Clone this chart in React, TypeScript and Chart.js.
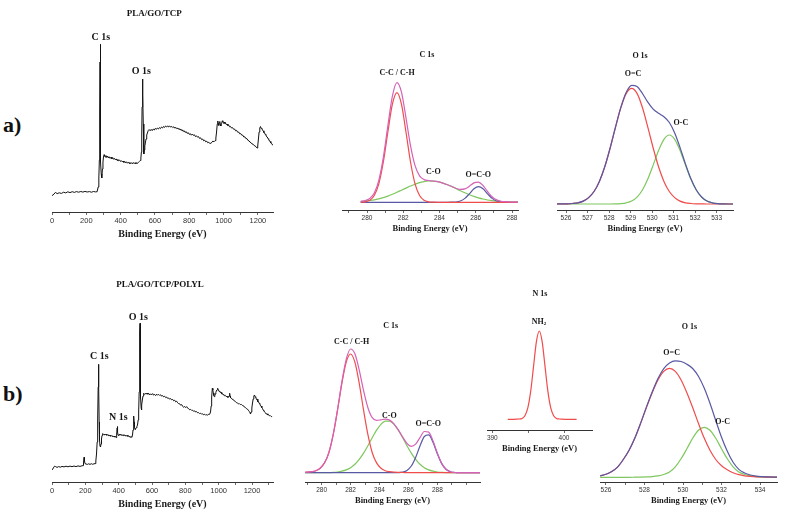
import React, { useEffect, useRef } from 'react';
import { Chart, registerables } from 'chart.js';

Chart.register(...registerables);

// ---------------- DATA ----------------
// Survey spectra [binding energy (eV), intensity (a.u.)]
const SURVEY_A: [number, number][] = [
  [0, 16.3], [12, 18.0], [20, 19.6], [30, 18.4], [42, 19.2], [55, 18.6], [68, 19.8], [80, 19.1], [92, 20.2], [105, 19.4],
  [118, 20.3], [130, 19.6], [142, 20.4], [155, 19.8], [168, 20.5], [180, 19.9], [192, 20.6], [205, 20.0], [218, 20.4], [230, 19.8],
  [242, 20.5], [254, 20.1], [263, 20.3], [269, 25], [273, 34], [276, 52], [278, 100], [280, 150], [281, 167.7], [282, 140],
  [283, 96], [285, 50], [287, 38], [289, 36], [291, 34], [294, 43], [297, 50], [300, 55], [304, 57.5], [309, 55],
  [314, 56.5], [319, 54.5], [324, 56], [329, 54], [334, 55.2], [339, 53.6], [344, 54.8], [349, 53.2], [354, 54.3], [359, 52.7],
  [364, 53.6], [369, 52.2], [374, 53.1], [379, 51.6], [384, 52.6], [389, 51.2], [394, 52], [399, 50.6], [404, 51.4], [409, 50.2],
  [414, 51], [419, 49.6], [424, 50.5], [429, 49.2], [434, 50.2], [439, 48.8], [444, 49.8], [449, 48.6], [454, 49.6], [459, 48.3],
  [464, 49.3], [469, 48.2], [474, 49.5], [479, 48.4], [484, 49.3], [489, 48.2], [494, 49.4], [499, 48.6], [504, 49.6], [509, 50.5],
  [514, 51.5], [518, 54], [521, 60], [523, 78], [525, 105], [527, 128], [528.5, 133], [530, 118], [532, 88], [534, 62],
  [536, 58], [538, 62], [541, 66], [544, 69], [548, 73], [552, 77], [556, 79], [561, 81.5], [566, 82.5], [572, 81.2],
  [578, 82.6], [584, 81.4], [590, 83], [596, 82], [602, 83.6], [608, 82.6], [614, 84], [620, 83], [626, 84.4], [632, 83.4],
  [638, 85], [644, 84], [650, 85.5], [656, 84.6], [662, 86], [668, 85], [674, 86.2], [680, 85], [686, 86], [692, 84.8],
  [698, 85.6], [704, 84.4], [710, 85.2], [716, 83.8], [722, 84.6], [728, 83.2], [734, 84], [740, 82.4], [746, 83.2], [752, 81.6],
  [758, 82.4], [764, 80.6], [770, 81.4], [776, 79.6], [782, 80.4], [788, 78.6], [794, 79.4], [800, 77.6], [806, 78.4], [812, 76.8],
  [818, 78], [824, 76.6], [830, 77.2], [836, 75.4], [842, 76.2], [848, 74.8], [854, 75.4], [860, 73.6], [866, 74.2], [872, 72.4],
  [878, 73], [884, 71.2], [890, 71.8], [896, 70.2], [902, 70.8], [908, 69.2], [914, 69.8], [920, 68.4], [926, 68.8], [932, 69.6],
  [938, 71], [944, 70.2], [950, 71.4], [955, 74], [959, 80], [963, 88], [966, 91], [969, 88.4], [972, 86.6], [975, 89.5],
  [978, 90.5], [981, 87.6], [984, 86], [987, 88.8], [990, 89.6], [993, 91.2], [996, 90.2], [1000, 88.6], [1004, 90], [1008, 88.4],
  [1012, 88.8], [1016, 87.4], [1020, 88], [1025, 86.4], [1030, 86.8], [1035, 85.2], [1040, 85.6], [1046, 84], [1052, 84.4], [1058, 82.8],
  [1064, 83], [1070, 81.2], [1076, 81.6], [1082, 79.8], [1088, 80], [1094, 78.2], [1100, 78.4], [1106, 76.8], [1112, 76.8], [1118, 75],
  [1124, 75.2], [1130, 73.4], [1136, 73.4], [1142, 71.6], [1148, 71.2], [1154, 69.8], [1160, 69.4], [1166, 68], [1172, 67.8], [1178, 66.4],
  [1184, 66.2], [1190, 64.8], [1195, 64], [1199, 66], [1203, 73], [1207, 80], [1211, 84], [1215, 85.5], [1219, 83.6], [1223, 83.8],
  [1227, 81.6], [1231, 81.2], [1235, 79.4], [1239, 79.2], [1243, 77.4], [1247, 77], [1251, 75.2], [1255, 75], [1259, 73.2], [1263, 72.8],
  [1267, 71], [1271, 70.6], [1275, 69], [1279, 68.8], [1283, 67.4], [1287, 67],
];

const SURVEY_B: [number, number][] = [
  [0, 12], [8, 14], [15, 15.8], [22, 15.4], [30, 14.6], [40, 15.4], [50, 14.8], [60, 15.6], [72, 15.1], [84, 15.8],
  [96, 15.2], [108, 15.9], [120, 15.3], [132, 16], [144, 15.4], [156, 16.1], [168, 15.6], [180, 16.2], [186, 16.4], [189, 19],
  [192, 24.7], [195, 21], [198, 18.4], [204, 18], [212, 17.6], [220, 18.2], [228, 17.6], [236, 18.3], [244, 17.7], [252, 18.2],
  [258, 18.4], [263, 21], [267, 28], [271, 40], [274, 62], [277, 95], [279, 117.7], [281, 95], [283, 60], [285, 42],
  [288, 36], [291, 35], [294, 38], [297, 43], [300, 46.5], [304, 48.5], [308, 48], [312, 47.2], [316, 48], [320, 47],
  [324, 47.8], [328, 46.8], [332, 47.4], [336, 46.4], [340, 47.2], [344, 46.2], [348, 46.8], [352, 45.8], [356, 46.4], [360, 45.6],
  [364, 46.2], [368, 45.4], [372, 46], [376, 44.9], [380, 45.6], [384, 44.4], [387, 45], [389, 48], [391, 54], [392.5, 55.5],
  [394, 50], [396, 47], [399, 46.6], [403, 47.6], [407, 46.8], [411, 47.6], [415, 46.8], [419, 47.4], [423, 46.6], [427, 47.2],
  [431, 46.4], [435, 47], [439, 46.2], [443, 46.8], [447, 45.8], [451, 46.6], [455, 45.6], [459, 46.2], [463, 45.2], [467, 45.8],
  [471, 44.6], [475, 45.2], [479, 44.8], [483, 47], [486, 52], [489, 60], [491, 66], [493, 60], [495, 55], [498, 52.5],
  [501, 53.5], [505, 54], [509, 55.3], [513, 57], [517, 62], [520, 70], [523, 90], [525, 120], [527, 150], [528, 158.7],
  [529, 150], [531, 118], [533, 85], [535, 74], [537, 72], [539, 77], [542, 82], [546, 86], [550, 88.7], [555, 87.6],
  [560, 88.6], [565, 87.8], [570, 89], [575, 87.8], [580, 88.6], [586, 87], [592, 88.2], [598, 87.2], [604, 88.4], [610, 86.8],
  [616, 87.6], [622, 86.4], [628, 87.8], [634, 86.8], [640, 87.6], [646, 86.6], [652, 87.2], [658, 85.8], [664, 86.4], [670, 85.2],
  [676, 85.8], [682, 84.4], [688, 85], [694, 83.6], [700, 84], [706, 82.8], [712, 83.4], [718, 82.2], [724, 82.6], [730, 81.2],
  [736, 81.8], [742, 80.2], [748, 80.8], [754, 79.2], [760, 78.4], [766, 78.2], [772, 76.8], [778, 77.4], [784, 75.8], [790, 74.6],
  [796, 75.6], [802, 74.4], [808, 75.4], [814, 73.8], [820, 73.4], [826, 72.2], [832, 72.6], [838, 71.6], [844, 71.8], [850, 70.6],
  [856, 71.2], [862, 70], [868, 70.4], [874, 69.2], [880, 69.4], [886, 68.4], [892, 68.8], [898, 67.8], [904, 68.2], [910, 67.2],
  [916, 67.8], [922, 66.8], [928, 67.4], [934, 66.8], [940, 67.8], [946, 67.7], [951, 70], [955, 76], [958, 85], [962, 93.7],
  [965, 92], [968, 89], [971, 86.5], [974, 85.3], [977, 86.4], [980, 88], [983, 89.6], [986, 91], [990, 92.2], [994, 93.7],
  [998, 92.4], [1002, 90.6], [1006, 91], [1010, 89.4], [1014, 89.6], [1018, 88.2], [1022, 88.6], [1026, 87.2], [1030, 87.6], [1035, 86.2],
  [1040, 86.6], [1045, 85.4], [1050, 85.8], [1055, 84.6], [1060, 85], [1063, 86], [1066, 88.7], [1068, 86], [1071, 84.4], [1076, 84],
  [1082, 82.6], [1088, 82.4], [1094, 81], [1100, 80.6], [1106, 79.4], [1112, 79], [1118, 78.2], [1124, 78.4], [1130, 77.4], [1136, 77.6],
  [1142, 76.6], [1148, 76.4], [1154, 75], [1160, 74.6], [1166, 73.4], [1172, 73], [1178, 71.8], [1184, 70.4], [1188, 69.2], [1191, 68],
  [1195, 70], [1199, 74], [1203, 79], [1207, 83], [1211, 86], [1215, 87], [1219, 85.2], [1223, 84.6], [1227, 82.4], [1231, 82.8],
  [1235, 80.3], [1239, 80.4], [1243, 78.6], [1247, 78.2], [1251, 76.2], [1255, 76], [1259, 74.2], [1263, 73.6], [1267, 71.8], [1271, 71.4],
  [1275, 70], [1280, 69.4], [1285, 68], [1290, 68.2], [1295, 67], [1300, 67.2], [1305, 66.2], [1310, 66.4], [1314, 65.6], [1318, 65.3],
];

// a) C 1s high resolution
const A_C1S_EV = [279.65, 279.9, 280.15, 280.4, 280.65, 280.9, 281.15, 281.4, 281.65, 281.9, 282.15, 282.4, 282.65, 282.9, 283.15, 283.4, 283.65, 283.9, 284.15, 284.4, 284.65, 284.9, 285.15, 285.4, 285.65, 285.9, 286.15, 286.4, 286.65, 286.9, 287.15, 287.4, 287.65, 287.9, 288.15, 288.4];
const A_C1S_ENV = [0.9, 1.7, 3.8, 9.3, 22.0, 45.0, 76.5, 106.1, 119.7, 110.2, 84.5, 56.6, 36.6, 26.5, 22.7, 21.8, 21.3, 20.6, 19.4, 17.8, 16.0, 14.1, 12.9, 13.4, 16.1, 19.4, 20.2, 16.8, 10.8, 5.5, 2.4, 1.0, 0.6, 0.3, 0.2, 0.1];
const A_C1S_CC = [0.1, 0.5, 2.0, 6.8, 18.5, 40.3, 70.3, 98.1, 109.7, 98.1, 70.3, 40.3, 18.5, 6.8, 2.0, 0.5, 0.1, 0, 0, 0, 0, 0, 0, 0, 0, 0, 0, 0, 0, 0, 0, 0, 0, 0, 0, 0];
const A_C1S_CO = [0.8, 1.2, 1.8, 2.5, 3.5, 4.7, 6.2, 8.0, 10.0, 12.1, 14.2, 16.3, 18.1, 19.7, 20.7, 21.3, 21.2, 20.6, 19.4, 17.8, 15.9, 13.8, 11.6, 9.5, 7.6, 5.9, 4.5, 3.3, 2.3, 1.6, 1.1, 0.7, 0.5, 0.3, 0.2, 0.1];
const A_C1S_OCO = [0, 0, 0, 0, 0, 0, 0, 0, 0, 0, 0, 0, 0, 0, 0, 0, 0, 0, 0, 0, 0.1, 0.3, 1.3, 3.9, 8.5, 13.5, 15.7, 13.5, 8.5, 3.9, 1.3, 0.3, 0.1, 0, 0, 0];

// a) O 1s high resolution
const A_O1S_EV = [525.55, 525.8, 526.05, 526.3, 526.55, 526.8, 527.05, 527.3, 527.55, 527.8, 528.05, 528.3, 528.55, 528.8, 529.05, 529.3, 529.55, 529.8, 530.05, 530.3, 530.55, 530.8, 531.05, 531.3, 531.55, 531.8, 532.05, 532.3, 532.55, 532.8, 533.05, 533.3, 533.55, 533.8];
const A_O1S_ENV = [0, 0.1, 0.2, 0.5, 1.2, 2.9, 6.4, 12.5, 22.6, 37.2, 56.0, 77.0, 96.9, 111.8, 118.7, 117.5, 110.5, 101.8, 94.9, 90.7, 87.3, 81.5, 71.1, 56.4, 40.1, 25.4, 14.2, 7.0, 3.0, 1.2, 0.4, 0.1, 0, 0];
const A_O1S_OdC = [0, 0.1, 0.2, 0.5, 1.2, 2.9, 6.4, 12.5, 22.6, 37.2, 56.0, 76.9, 96.5, 110.6, 115.7, 110.6, 96.5, 76.9, 56.0, 37.2, 22.6, 12.5, 6.4, 2.9, 1.2, 0.5, 0.2, 0.1, 0, 0, 0, 0, 0, 0];
const A_O1S_OC = [0, 0, 0, 0, 0, 0, 0, 0, 0, 0, 0, 0.1, 0.4, 1.2, 3.0, 6.9, 14.0, 24.9, 38.9, 53.5, 64.7, 69.0, 64.7, 53.5, 38.9, 24.9, 14.0, 6.9, 3.0, 1.2, 0.4, 0.1, 0, 0];

// b) C 1s high resolution
const B_C1S_EV = [278.7, 279.0, 279.3, 279.6, 279.9, 280.2, 280.5, 280.8, 281.1, 281.4, 281.7, 282.0, 282.3, 282.6, 282.9, 283.2, 283.5, 283.8, 284.1, 284.4, 284.7, 285.0, 285.3, 285.6, 285.9, 286.2, 286.5, 286.8, 287.1, 287.4, 287.7, 288.0, 288.3, 288.6, 288.9, 289.2, 289.5, 289.8, 290.1, 290.4, 290.7, 291.0];
const B_C1S_ENV = [0.3, 0.5, 1.0, 2.0, 4.5, 9.9, 20.1, 38.3, 63.2, 90.8, 113.3, 123.7, 118.9, 102.6, 82.1, 65.0, 55.0, 52.3, 52.9, 53.6, 52.6, 48.9, 42.9, 35.8, 29.4, 26.3, 28.6, 35.1, 41.2, 40.6, 31.9, 19.6, 9.4, 3.5, 1.0, 0.2, 0, 0, 0, 0, 0, 0];
const B_C1S_CC = [0.3, 0.5, 1.0, 2.0, 4.5, 9.8, 20.0, 38.0, 62.5, 89.3, 110.5, 118.7, 110.5, 89.3, 62.5, 38.0, 20.0, 9.8, 4.5, 2.0, 1.0, 0.5, 0.3, 0.2, 0.1, 0, 0, 0, 0, 0, 0, 0, 0, 0, 0, 0, 0, 0, 0, 0, 0, 0];
const B_C1S_CO = [0, 0, 0, 0, 0, 0.1, 0.1, 0.3, 0.7, 1.5, 2.8, 5.0, 8.4, 13.3, 19.6, 27.0, 35.0, 42.5, 48.4, 51.6, 51.6, 48.4, 42.5, 35.0, 27.0, 19.6, 13.3, 8.4, 5.0, 2.8, 1.5, 0.7, 0.3, 0.1, 0, 0, 0, 0, 0, 0, 0, 0];
const B_C1S_OCO = [0, 0, 0, 0, 0, 0, 0, 0, 0, 0, 0, 0, 0, 0, 0, 0, 0, 0, 0, 0, 0, 0, 0.1, 0.6, 2.3, 6.7, 15.3, 26.7, 36.2, 37.8, 30.4, 18.9, 9.1, 3.4, 1.0, 0.2, 0, 0, 0, 0, 0, 0];

// b) N 1s high resolution
const B_N1S_EV = [392.15, 392.55, 392.95, 393.35, 393.75, 394.15, 394.55, 394.95, 395.35, 395.75, 396.15, 396.55, 396.95, 397.35, 397.75, 398.15, 398.55, 398.95, 399.35, 399.75, 400.15, 400.55, 400.95, 401.35, 401.75];
const B_N1S_NH2 = [0, 0, 0, 0.1, 0.3, 0.9, 3.6, 11.4, 27.9, 52.9, 77.7, 88.3, 77.7, 52.9, 27.9, 11.4, 3.6, 0.9, 0.3, 0.1, 0, 0, 0, 0, 0];

// b) O 1s high resolution
const B_O1S_EV = [525.7, 526.0, 526.3, 526.6, 526.9, 527.2, 527.5, 527.8, 528.1, 528.4, 528.7, 529.0, 529.3, 529.6, 529.9, 530.2, 530.5, 530.8, 531.1, 531.4, 531.7, 532.0, 532.3, 532.6, 532.9, 533.2, 533.5, 533.8, 534.1, 534.4, 534.7, 534.9];
const B_O1S_ENV = [1.5, 3.0, 5.8, 10.2, 17.8, 27.0, 39.3, 54.2, 70.2, 85.3, 98.7, 108.7, 114.3, 116.4, 115.8, 113.1, 108.8, 101.0, 89.2, 74.0, 56.8, 40.0, 26.0, 15.0, 7.9, 4.3, 2.3, 1.2, 0.7, 0.4, 0.2, 0.1];
const B_O1S_OdC = [1.5, 3.0, 5.8, 10.2, 17.8, 27.0, 39.2, 54.0, 69.8, 84.6, 97.3, 105.9, 109.0, 105.9, 97.3, 84.6, 69.8, 54.0, 39.2, 27.0, 17.8, 11.5, 7.5, 4.5, 2.6, 1.5, 0.9, 0.5, 0.3, 0.2, 0.1, 0.1];
const B_O1S_OC = [0, 0, 0, 0, 0, 0, 0.1, 0.2, 0.4, 0.7, 1.4, 2.8, 5.3, 10.5, 18.5, 28.5, 39.0, 47.0, 50.0, 47.0, 39.0, 28.5, 18.5, 10.5, 5.3, 2.8, 1.4, 0.7, 0.4, 0.2, 0.1, 0];

const AXIS_TITLE = 'Binding Energy (eV)';

// ---------------- STYLE ----------------
const C_ENV_C = '#d462b8';
const C_RED = '#f04c4c';
const C_GREEN = '#7ec75e';
const C_BLUE = '#5858a4';
const SERIF = '"Liberation Serif", "Times New Roman", serif';
const SANS = '"Liberation Sans", Arial, sans-serif';

type Series = { xs: number[]; ys: number[]; color: string; width: number; smooth: boolean };
type Txt = { text: string; x: number; y: number; size: number; sub?: string };
type Panel = {
  box: { l: number; t: number; w: number; h: number };
  pad: { left: number; right: number; top: number; bottom: number };
  x: { min: number; max: number; step: number; labelEvery: number; labelMax?: number };
  y: { min: number; max: number };
  survey: boolean;
  series: Series[];
  texts: Txt[];
};

const pairsX = (p: [number, number][]) => p.map((d) => d[0]);
const pairsY = (p: [number, number][]) => p.map((d) => d[1]);

const PANELS: Panel[] = [
  {
    box: { l: 38, t: 4, w: 247, h: 236 }, pad: { left: 14, right: 12, top: 0, bottom: 0 },
    x: { min: 0, max: 1288, step: 100, labelEvery: 200 }, y: { min: 0, max: 208 }, survey: true,
    series: [{ xs: pairsX(SURVEY_A), ys: pairsY(SURVEY_A), color: '#111', width: 1, smooth: false }],
    texts: [
      { text: 'PLA/GO/TCP', x: 596, y: 198, size: 9 },
      { text: 'C 1s', x: 285, y: 175, size: 10 },
      { text: 'O 1s', x: 520, y: 141, size: 10 },
    ],
  },
  {
    box: { l: 326, t: 46, w: 206, h: 188 }, pad: { left: 16, right: 14, top: 0, bottom: 0 },
    x: { min: 278.62, max: 288.33, step: 1, labelEvery: 2 }, y: { min: -7.7, max: 156.3 }, survey: false,
    series: [
      { xs: A_C1S_EV, ys: A_C1S_ENV, color: C_ENV_C, width: 1.2, smooth: true },
      { xs: A_C1S_EV, ys: A_C1S_CC, color: C_RED, width: 1.2, smooth: true },
      { xs: A_C1S_EV, ys: A_C1S_OCO, color: C_BLUE, width: 1.2, smooth: true },
      { xs: A_C1S_EV, ys: A_C1S_CO, color: C_GREEN, width: 1.2, smooth: true },
    ],
    texts: [
      { text: 'C 1s', x: 283.31, y: 147.3, size: 8 },
      { text: 'C-C / C-H', x: 281.66, y: 129, size: 8 },
      { text: 'C-O', x: 283.66, y: 30.6, size: 8 },
      { text: 'O=C-O', x: 286.14, y: 27.3, size: 8 },
    ],
  },
  {
    box: { l: 541, t: 46, w: 206, h: 188 }, pad: { left: 16, right: 14, top: 0, bottom: 0 },
    x: { min: 525.58, max: 533.76, step: 1, labelEvery: 1 }, y: { min: -6, max: 158 }, survey: false,
    series: [
      { xs: A_O1S_EV, ys: A_O1S_ENV, color: C_BLUE, width: 1.2, smooth: true },
      { xs: A_O1S_EV, ys: A_O1S_OdC, color: C_RED, width: 1.2, smooth: true },
      { xs: A_O1S_EV, ys: A_O1S_OC, color: C_GREEN, width: 1.2, smooth: true },
    ],
    texts: [
      { text: 'O 1s', x: 529.44, y: 148.3, size: 8 },
      { text: 'O=C', x: 529.11, y: 129.7, size: 8 },
      { text: 'O-C', x: 531.34, y: 80.7, size: 8 },
    ],
  },
  {
    box: { l: 38, t: 274, w: 247, h: 236 }, pad: { left: 14, right: 12, top: 0, bottom: 0 },
    x: { min: 0, max: 1326, step: 100, labelEvery: 200 }, y: { min: 0, max: 208 }, survey: true,
    series: [{ xs: pairsX(SURVEY_B), ys: pairsY(SURVEY_B), color: '#111', width: 1, smooth: false }],
    texts: [
      { text: 'PLA/GO/TCP/POLYL', x: 648, y: 197, size: 9 },
      { text: 'C 1s', x: 284, y: 125.3, size: 10 },
      { text: 'N 1s', x: 398, y: 64.3, size: 10 },
      { text: 'O 1s', x: 518, y: 164.7, size: 10 },
    ],
  },
  {
    box: { l: 289, t: 316, w: 205, h: 190 }, pad: { left: 16, right: 14, top: 0, bottom: 0 },
    x: { min: 278.85, max: 290.95, step: 1, labelEvery: 2, labelMax: 288 }, y: { min: -9.3, max: 156.7 }, survey: false,
    series: [
      { xs: B_C1S_EV, ys: B_C1S_ENV, color: C_ENV_C, width: 1.2, smooth: true },
      { xs: B_C1S_EV, ys: B_C1S_CC, color: C_RED, width: 1.2, smooth: true },
      { xs: B_C1S_EV, ys: B_C1S_OCO, color: C_BLUE, width: 1.2, smooth: true },
      { xs: B_C1S_EV, ys: B_C1S_CO, color: C_GREEN, width: 1.2, smooth: true },
    ],
    texts: [
      { text: 'C 1s', x: 284.77, y: 147, size: 8 },
      { text: 'C-C / C-H', x: 282.07, y: 131, size: 8 },
      { text: 'C-O', x: 284.68, y: 56.7, size: 8 },
      { text: 'O=C-O', x: 287.37, y: 48.7, size: 8 },
    ],
  },
  {
    box: { l: 471, t: 285, w: 135, h: 169 }, pad: { left: 16, right: 14, top: 0, bottom: 0 },
    x: { min: 389.26, max: 403.9, step: 5, labelEvery: 10 }, y: { min: -10.7, max: 134.3 }, survey: false,
    series: [{ xs: B_N1S_EV, ys: B_N1S_NH2, color: C_RED, width: 1.2, smooth: true }],
    texts: [
      { text: 'N 1s', x: 396.65, y: 125.3, size: 8 },
      { text: 'NH', sub: '2', x: 396.51, y: 97.6, size: 8 },
    ],
  },
  {
    box: { l: 584, t: 318, w: 201, h: 188 }, pad: { left: 16, right: 8, top: 0, bottom: 0 },
    x: { min: 525.69, max: 534.88, step: 1, labelEvery: 2 }, y: { min: -4.7, max: 159.3 }, survey: false,
    series: [
      { xs: B_O1S_EV, ys: B_O1S_ENV, color: C_BLUE, width: 1.2, smooth: true },
      { xs: B_O1S_EV, ys: B_O1S_OdC, color: C_RED, width: 1.2, smooth: true },
      { xs: B_O1S_EV, ys: B_O1S_OC, color: C_GREEN, width: 1.2, smooth: true },
    ],
    texts: [
      { text: 'O 1s', x: 530.33, y: 150, size: 8 },
      { text: 'O=C', x: 529.41, y: 124, size: 8 },
      { text: 'O-C', x: 532.06, y: 55.6, size: 8 },
    ],
  },
];

const textPlugin = {
  id: 'panelText',
  afterDatasetsDraw(chart: any, _args: any, opts: any) {
    const items: Txt[] = (opts && opts.items) || [];
    const { ctx } = chart;
    const xs = chart.scales.x;
    const ys = chart.scales.y;
    ctx.save();
    ctx.fillStyle = '#151515';
    ctx.textBaseline = 'middle';
    for (const it of items) {
      const px = xs.getPixelForValue(it.x);
      const py = ys.getPixelForValue(it.y);
      const mainFont = `bold ${it.size}px ${SERIF}`;
      if (it.sub) {
        const subFont = `bold ${Math.round(it.size * 0.65)}px ${SERIF}`;
        ctx.font = mainFont;
        const mw = ctx.measureText(it.text).width;
        ctx.font = subFont;
        const sw = ctx.measureText(it.sub).width;
        const start = px - (mw + sw) / 2;
        ctx.textAlign = 'left';
        ctx.font = mainFont;
        ctx.fillText(it.text, start, py);
        ctx.font = subFont;
        ctx.fillText(it.sub, start + mw, py + it.size * 0.3);
      } else {
        ctx.font = mainFont;
        ctx.textAlign = 'center';
        ctx.fillText(it.text, px, py);
      }
    }
    ctx.restore();
  },
};

function buildConfig(p: Panel): any {
  const tickFont = p.survey ? 7.5 : 6.5;
  const titleFont = p.survey ? 10 : 8.5;
  const tickPad = p.survey ? 1.5 : 1;
  return {
    type: 'line',
    data: {
      datasets: p.series.map((s) => ({
        data: s.xs.map((x, i) => ({ x, y: s.ys[i] })),
        borderColor: s.color,
        borderWidth: s.width,
        pointRadius: 0,
        fill: false,
        tension: s.smooth ? 0.4 : 0,
        cubicInterpolationMode: s.smooth ? 'monotone' : 'default',
      })),
    },
    options: {
      responsive: false,
      animation: false,
      events: [],
      layout: { padding: p.pad },
      plugins: {
        legend: { display: false },
        tooltip: { enabled: false },
        title: { display: false },
        panelText: { items: p.texts },
      },
      scales: {
        x: {
          type: 'linear',
          min: p.x.min,
          max: p.x.max,
          border: { display: true, color: '#333', width: 1 },
          grid: { display: true, drawOnChartArea: false, drawTicks: true, tickLength: 3, tickColor: '#444', tickWidth: 0.8 },
          ticks: {
            stepSize: p.x.step,
            autoSkip: false,
            maxRotation: 0,
            includeBounds: false,
            padding: tickPad,
            color: '#333',
            font: { size: tickFont, family: SANS },
            callback: (value: any) => {
              const v = Number(value);
              const r = Math.round(v);
              if (Math.abs(v - r) > 1e-6) return '';
              if (r % p.x.labelEvery !== 0) return '';
              if (p.x.labelMax !== undefined && r > p.x.labelMax) return '';
              return String(r);
            },
          },
          title: {
            display: true,
            text: AXIS_TITLE,
            color: '#1a1a1a',
            font: { size: titleFont, weight: 'bold', family: SERIF },
            padding: { top: 1, bottom: 0 },
          },
        },
        y: { type: 'linear', display: false, min: p.y.min, max: p.y.max },
      },
    },
    plugins: [textPlugin],
  };
}

function PanelChart({ panel }: { panel: Panel }) {
  const ref = useRef<HTMLCanvasElement | null>(null);
  useEffect(() => {
    if (!ref.current) return;
    const chart = new Chart(ref.current, buildConfig(panel));
    return () => chart.destroy();
  }, [panel]);
  const b = panel.box;
  return (
    <canvas
      ref={ref}
      width={b.w}
      height={b.h}
      style={{ position: 'absolute', left: b.l, top: b.t, width: b.w, height: b.h }}
    />
  );
}

const letterStyle: React.CSSProperties = {
  position: 'absolute',
  left: 3,
  fontFamily: SERIF,
  fontWeight: 'bold',
  fontSize: 22,
  lineHeight: '22px',
  color: '#111',
};

export default function App() {
  return (
    <div
      style={{
        position: 'fixed',
        left: 0,
        top: 0,
        width: 786,
        height: 515,
        background: '#fff',
        overflow: 'hidden',
      }}
    >
      {PANELS.map((p, i) => (
        <PanelChart key={i} panel={p} />
      ))}
      <div style={{ ...letterStyle, top: 114 }}>a)</div>
      <div style={{ ...letterStyle, top: 383 }}>b)</div>
    </div>
  );
}
